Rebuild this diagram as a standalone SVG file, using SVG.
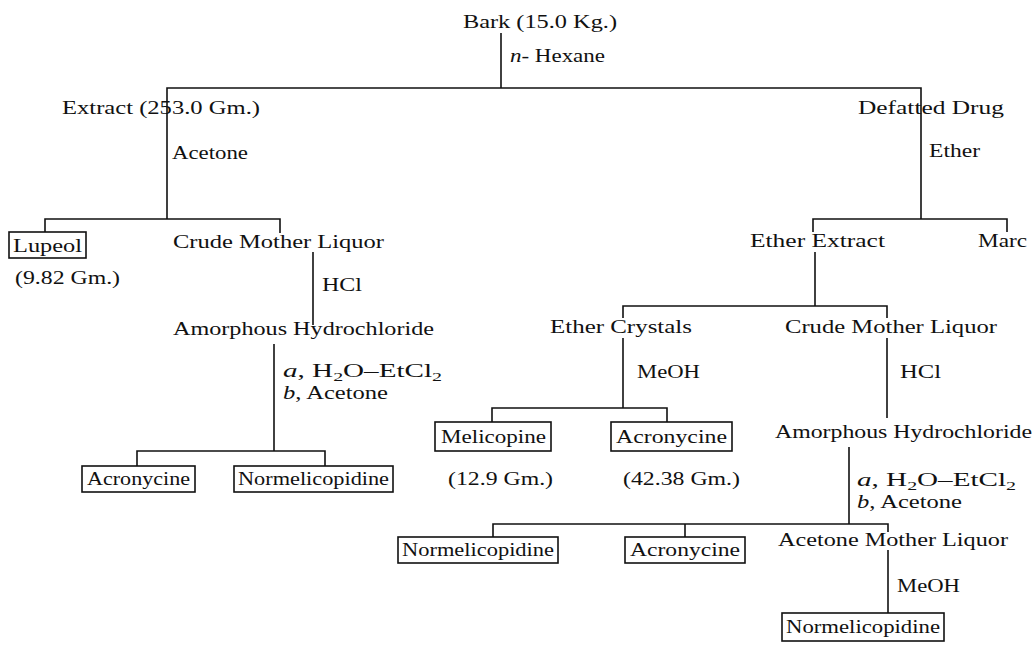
<svg xmlns="http://www.w3.org/2000/svg" width="1035" height="645" viewBox="0 0 1035 645">
<style>
  .t { font-family: "Liberation Serif", "Times New Roman", serif; font-size: 19px; fill: #111; }
  .i { font-style: italic; }
  .sub { font-size: 13px; }
  .box { fill: none; stroke: #111; stroke-width: 1.6; }
  .c { fill: none; stroke: #111; stroke-width: 1.6; }
</style>
<rect width="1035" height="645" fill="#fff"/>

<g id="connectors" class="c">
  <path d="M501,33 V88"/>
  <path d="M167,219 V88 H921 V219"/>
  <path d="M45,232 V219 H280 V233"/>
  <path d="M313,252 V325"/>
  <path d="M274,344 V451"/>
  <path d="M137,466 V451 H325 V466"/>
  <path d="M813,232 V219 H1007 V232"/>
  <path d="M815,252 V306"/>
  <path d="M623,318 V306 H887 V318"/>
  <path d="M623,338 V408"/>
  <path d="M887,338 V418"/>
  <path d="M492,422 V408 H667 V422"/>
  <path d="M849,447 V524"/>
  <path d="M493,537 V524 H888 V532"/>
  <path d="M685,524 V537"/>
  <path d="M888,550 V613"/>
</g>

<g id="edge-labels" class="t">
  <text x="510" y="62" textLength="95" lengthAdjust="spacingAndGlyphs"><tspan class="i">n</tspan>- Hexane</text>
  <text x="172" y="159" textLength="76" lengthAdjust="spacingAndGlyphs">Acetone</text>
  <text x="929" y="157" textLength="51" lengthAdjust="spacingAndGlyphs">Ether</text>
  <text x="322" y="291" textLength="40" lengthAdjust="spacingAndGlyphs">HCl</text>
  <text x="283" y="377" textLength="159" lengthAdjust="spacingAndGlyphs"><tspan class="i">a</tspan>, H<tspan class="sub" dy="4">2</tspan><tspan dy="-4">O–EtCl</tspan><tspan class="sub" dy="4">2</tspan></text>
  <text x="283" y="399" textLength="105" lengthAdjust="spacingAndGlyphs"><tspan class="i">b</tspan>, Acetone</text>
  <text x="637" y="378" textLength="63" lengthAdjust="spacingAndGlyphs">MeOH</text>
  <text x="900" y="378" textLength="41" lengthAdjust="spacingAndGlyphs">HCl</text>
  <text x="857" y="486" textLength="159" lengthAdjust="spacingAndGlyphs"><tspan class="i">a</tspan>, H<tspan class="sub" dy="4">2</tspan><tspan dy="-4">O–EtCl</tspan><tspan class="sub" dy="4">2</tspan></text>
  <text x="857" y="508" textLength="105" lengthAdjust="spacingAndGlyphs"><tspan class="i">b</tspan>, Acetone</text>
  <text x="897" y="592" textLength="63" lengthAdjust="spacingAndGlyphs">MeOH</text>
</g>

<g id="bark" class="t"><text x="463" y="28" textLength="154" lengthAdjust="spacingAndGlyphs">Bark (15.0 Kg.)</text></g>
<g id="extract" class="t"><text x="62" y="114" textLength="198" lengthAdjust="spacingAndGlyphs">Extract (253.0 Gm.)</text></g>
<g id="defatted-drug" class="t"><text x="858" y="114" textLength="146" lengthAdjust="spacingAndGlyphs">Defatted Drug</text></g>

<g id="lupeol">
  <rect class="box" x="9" y="232" width="77" height="26"/>
  <text class="t" x="13" y="252" textLength="69" lengthAdjust="spacingAndGlyphs">Lupeol</text>
  <text class="t" x="15" y="284" textLength="105" lengthAdjust="spacingAndGlyphs">(9.82 Gm.)</text>
</g>
<g id="crude-ml-left" class="t"><text x="173" y="248" textLength="211" lengthAdjust="spacingAndGlyphs">Crude Mother Liquor</text></g>
<g id="amorphous-left" class="t"><text x="173" y="335" textLength="261" lengthAdjust="spacingAndGlyphs">Amorphous Hydrochloride</text></g>
<g id="acronycine-left">
  <rect class="box" x="82" y="466" width="113" height="26"/>
  <text class="t" x="87" y="485" textLength="103" lengthAdjust="spacingAndGlyphs">Acronycine</text>
</g>
<g id="normelicopidine-left">
  <rect class="box" x="234" y="466" width="159" height="26"/>
  <text class="t" x="238" y="485" textLength="151" lengthAdjust="spacingAndGlyphs">Normelicopidine</text>
</g>

<g id="ether-extract" class="t"><text x="750" y="247" textLength="135" lengthAdjust="spacingAndGlyphs">Ether Extract</text></g>
<g id="marc" class="t"><text x="978" y="247" textLength="49" lengthAdjust="spacingAndGlyphs">Marc</text></g>
<g id="ether-crystals" class="t"><text x="550" y="333" textLength="142" lengthAdjust="spacingAndGlyphs">Ether Crystals</text></g>
<g id="crude-ml-right" class="t"><text x="785" y="333" textLength="212" lengthAdjust="spacingAndGlyphs">Crude Mother Liquor</text></g>

<g id="melicopine">
  <rect class="box" x="435" y="422" width="116" height="29"/>
  <text class="t" x="441" y="443" textLength="105" lengthAdjust="spacingAndGlyphs">Melicopine</text>
  <text class="t" x="448" y="485" textLength="105" lengthAdjust="spacingAndGlyphs">(12.9 Gm.)</text>
</g>
<g id="acronycine-mid">
  <rect class="box" x="611" y="422" width="121" height="29"/>
  <text class="t" x="616" y="443" textLength="111" lengthAdjust="spacingAndGlyphs">Acronycine</text>
  <text class="t" x="623" y="485" textLength="117" lengthAdjust="spacingAndGlyphs">(42.38 Gm.)</text>
</g>
<g id="amorphous-right" class="t"><text x="775" y="438" textLength="257" lengthAdjust="spacingAndGlyphs">Amorphous Hydrochloride</text></g>

<g id="normelicopidine-mid">
  <rect class="box" x="398" y="537" width="160" height="26"/>
  <text class="t" x="402" y="556" textLength="152" lengthAdjust="spacingAndGlyphs">Normelicopidine</text>
</g>
<g id="acronycine-bottom">
  <rect class="box" x="625" y="537" width="120" height="26"/>
  <text class="t" x="630" y="556" textLength="110" lengthAdjust="spacingAndGlyphs">Acronycine</text>
</g>
<g id="acetone-ml" class="t"><text x="778" y="546" textLength="230" lengthAdjust="spacingAndGlyphs">Acetone Mother Liquor</text></g>
<g id="normelicopidine-bottom">
  <rect class="box" x="782" y="613" width="162" height="28"/>
  <text class="t" x="786" y="633" textLength="154" lengthAdjust="spacingAndGlyphs">Normelicopidine</text>
</g>
</svg>
